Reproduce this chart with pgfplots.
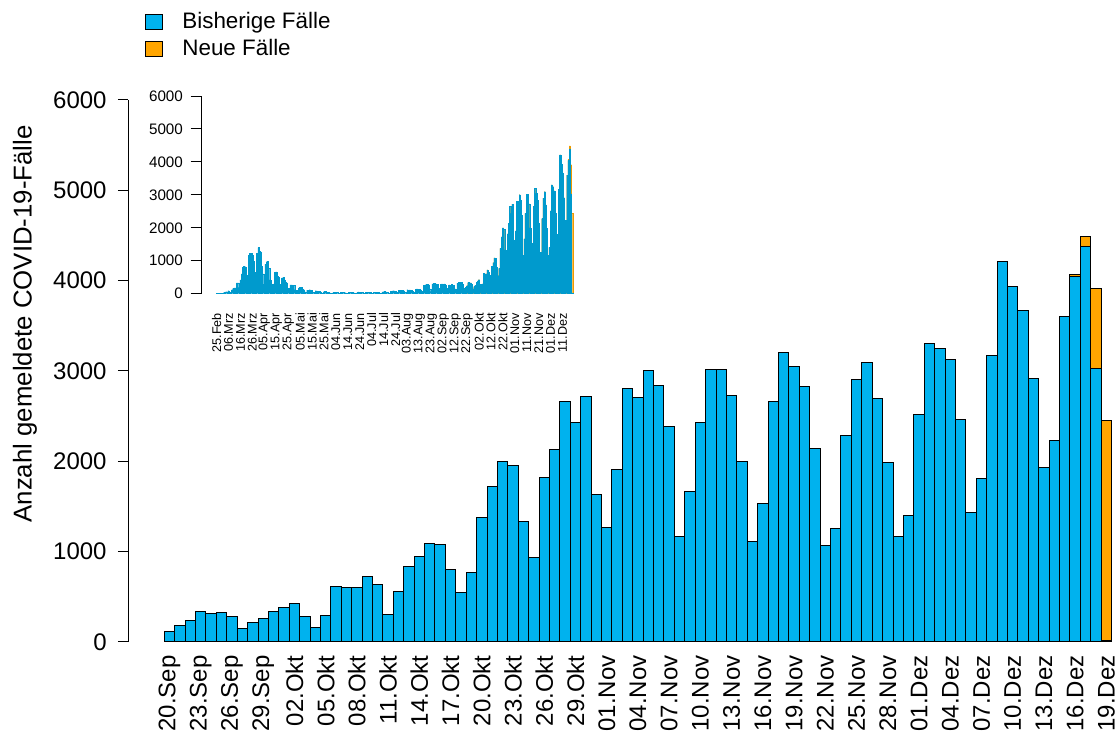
\documentclass[border=0pt]{standalone}
\usepackage{pgfplots}
\pgfplotsset{compat=1.18}
\usepackage{pgfplotstable}
\usepackage{fontspec}
\setmainfont{Liberation Sans}
\definecolor{mainblue}{RGB}{0,178,238}
\definecolor{insetblue}{RGB}{0,154,205}
\definecolor{neworange}{RGB}{255,165,0}
\definecolor{insetorange}{RGB}{238,154,0}

\pgfplotstableread[row sep=\\]{
i old new\\
0 114 0\\ 1 188 0\\ 2 243 0\\ 3 336 0\\ 4 310 0\\ 5 325 0\\ 6 281 0\\
7 148 0\\ 8 214 0\\ 9 258 0\\ 10 336 0\\ 11 387 0\\ 12 424 0\\ 13 281 0\\
14 166 0\\ 15 295 0\\ 16 616 0\\ 17 605 0\\ 18 598 0\\ 19 723 0\\ 20 642 0\\
21 306 0\\ 22 557 0\\ 23 834 0\\ 24 941 0\\ 25 1085 0\\ 26 1078 0\\ 27 801 0\\
28 546 0\\ 29 771 0\\ 30 1376 0\\ 31 1723 0\\ 32 2000 0\\ 33 1952 0\\ 34 1332 0\\
35 930 0\\ 36 1819 0\\ 37 2129 0\\ 38 2660 0\\ 39 2435 0\\ 40 2720 0\\ 41 1635 0\\
42 1265 0\\ 43 1908 0\\ 44 2808 0\\ 45 2705 0\\ 46 3004 0\\ 47 2841 0\\ 48 2388 0\\
49 1170 0\\ 50 1664 0\\ 51 2435 0\\ 52 3022 0\\ 53 3019 0\\ 54 2727 0\\ 55 2000 0\\
56 1110 0\\ 57 1535 0\\ 58 2660 0\\ 59 3203 0\\ 60 3048 0\\ 61 2830 0\\ 62 2137 0\\
63 1063 0\\ 64 1255 0\\ 65 2281 0\\ 66 2901 0\\ 67 3096 0\\ 68 2694 0\\ 69 1982 0\\
70 1166 0\\ 71 1402 0\\ 72 2513 0\\ 73 3299 0\\ 74 3247 0\\ 75 3122 0\\ 76 2458 0\\
77 1436 0\\ 78 1808 0\\ 79 3174 0\\ 80 4210 0\\ 81 3934 0\\ 82 3668 0\\ 83 2912 0\\
84 1937 0\\ 85 2236 0\\ 86 3598 0\\ 87 4041 30\\ 88 4373 111\\ 89 3033 882\\ 90 22 2425\\
}\maindata

\pgfplotstableread[row sep=\\]{
d v\\
0 3\\ 1 8\\ 2 15\\ 3 20\\ 4 12\\ 5 6\\
6 30\\ 7 45\\ 8 60\\ 9 55\\ 10 90\\ 11 50\\ 12 35\\
13 120\\ 14 160\\ 15 180\\ 16 175\\ 17 330\\ 18 330\\ 19 190\\
20 420\\ 21 600\\ 22 800\\ 23 840\\ 24 820\\ 25 560\\ 26 330\\
27 1170\\ 28 1220\\ 29 1230\\ 30 1180\\ 31 990\\ 32 640\\ 33 420\\
34 1230\\ 35 1400\\ 36 1280\\ 37 1270\\ 38 840\\ 39 600\\ 40 290\\
41 900\\ 42 970\\ 43 980\\ 44 770\\ 45 420\\ 46 300\\ 47 170\\
48 300\\ 49 650\\ 50 660\\ 51 530\\ 52 500\\ 53 290\\ 54 140\\
55 480\\ 56 500\\ 57 420\\ 58 360\\ 59 330\\ 60 170\\ 61 90\\
62 270\\ 63 270\\ 64 260\\ 65 250\\ 66 120\\ 67 110\\ 68 50\\
69 180\\ 70 190\\ 71 200\\ 72 150\\ 73 120\\ 74 60\\ 75 40\\
76 110\\ 77 110\\ 78 120\\ 79 100\\ 80 95\\ 81 40\\ 82 25\\
83 90\\ 84 85\\ 85 80\\ 86 70\\ 87 40\\ 88 30\\ 89 15\\
90 60\\ 91 70\\ 92 55\\ 93 50\\ 94 45\\ 95 25\\ 96 10\\
97 15\\ 98 50\\ 99 45\\ 100 40\\ 101 35\\ 102 20\\ 103 10\\
104 45\\ 105 40\\ 106 40\\ 107 25\\ 108 30\\ 109 15\\ 110 8\\
111 40\\ 112 45\\ 113 40\\ 114 35\\ 115 30\\ 116 15\\ 117 8\\
118 50\\ 119 55\\ 120 45\\ 121 40\\ 122 35\\ 123 15\\ 124 10\\
125 40\\ 126 45\\ 127 50\\ 128 40\\ 129 35\\ 130 20\\ 131 8\\
132 45\\ 133 50\\ 134 45\\ 135 45\\ 136 40\\ 137 20\\ 138 10\\
139 55\\ 140 60\\ 141 65\\ 142 55\\ 143 50\\ 144 25\\ 145 12\\
146 70\\ 147 80\\ 148 90\\ 149 85\\ 150 80\\ 151 40\\ 152 20\\
153 110\\ 154 100\\ 155 95\\ 156 110\\ 157 90\\ 158 50\\ 159 25\\
160 120\\ 161 110\\ 162 115\\ 163 100\\ 164 80\\ 165 50\\ 166 30\\
167 140\\ 168 150\\ 169 140\\ 170 130\\ 171 120\\ 172 70\\ 173 40\\
174 250\\ 175 270\\ 176 290\\ 177 280\\ 178 270\\ 179 150\\ 180 70\\
181 300\\ 182 320\\ 183 310\\ 184 300\\ 185 280\\ 186 160\\ 187 80\\
188 290\\ 189 300\\ 190 290\\ 191 300\\ 192 270\\ 193 170\\ 194 90\\
195 270\\ 196 260\\ 197 280\\ 198 260\\ 199 250\\ 200 150\\ 201 80\\
202 320\\ 203 340\\ 204 330\\ 205 340\\ 206 300\\ 207 180\\
}\predata

\begin{document}
\begin{tikzpicture}
\useasboundingbox (0,0) rectangle (559.5bp,370bp);
% main axis
\begin{axis}[
  at={(64bp,49bp)}, anchor=south west, scale only axis,
  width=495.5bp, height=271bp,
  xmin=-3.99, xmax=91.21, ymin=0, ymax=6000,
  axis lines*=left, axis line style={-, line width=0.5bp},
  x axis line style={draw=none},
  tick align=outside, major tick length=5bp,
  xtick={0,3,...,90},
  xticklabels={20.Sep,23.Sep,26.Sep,29.Sep,02.Okt,05.Okt,08.Okt,11.Okt,14.Okt,17.Okt,20.Okt,23.Okt,26.Okt,29.Okt,01.Nov,04.Nov,07.Nov,10.Nov,13.Nov,16.Nov,19.Nov,22.Nov,25.Nov,28.Nov,01.Dez,04.Dez,07.Dez,10.Dez,13.Dez,16.Dez,19.Dez},
  xtick style={draw=none},
  xticklabel style={rotate=90, anchor=east, inner sep=1.5bp, font=\fontsize{12bp}{14bp}\selectfont},
  ytick={0,1000,...,6000},
  ytick style={black, line width=0.5bp},
  yticklabel style={inner sep=5.5bp, font=\fontsize{12bp}{14bp}\selectfont},
  /pgf/number format/assume math mode=true,
  /pgf/number format/1000 sep={},
  scaled y ticks=false,
  ylabel={Anzahl gemeldete COVID-19-Fälle},
  every axis y label/.style={at={(axis description cs:-0.104,0.587)}, rotate=90, anchor=center, font=\fontsize{12.9bp}{15bp}\selectfont},
  legend image code/.code={\draw[#1, line width=0.5bp] (0bp,-3.75bp) rectangle (8.5bp,3.75bp);},
  legend style={at={(axis description cs:0.01715,1.166)}, anchor=north west, draw=none, fill=none, inner sep=0pt, row sep=1.5bp,
    nodes={inner sep=1bp, text height=8bp, text depth=2bp, anchor=west},
    font=\fontsize{11.2bp}{13bp}\selectfont,
    /tikz/every odd column/.append style={column sep=8.5bp}},
  legend cell align=left,
]
\addplot[ybar, bar width=1, bar shift=0pt, fill=neworange, draw=black, line width=0.5bp, forget plot]
  table[x=i, y expr=\thisrow{old}+\thisrow{new}] {\maindata};
\addplot[ybar, bar width=1, bar shift=0pt, fill=mainblue, draw=black, line width=0.5bp, forget plot]
  table[x=i, y=old] {\maindata};
\addlegendimage{fill=mainblue, draw=black}
\addlegendentry{Bisherige Fälle}
\addlegendimage{fill=neworange, draw=black}
\addlegendentry{Neue Fälle}
\end{axis}
% inset axis
\begin{axis}[
  at={(100.85bp,223.15bp)}, anchor=south west, scale only axis,
  width=192.65bp, height=98.85bp,
  xmin=-12.5, xmax=310.5, ymin=0, ymax=6000,
  axis lines*=left, axis line style={-, line width=0.5bp},
  x axis line style={draw=none},
  tick align=outside, major tick length=5.5bp,
  xtick={0,10,...,290},
  xticklabels={25.Feb,06.Mrz,16.Mrz,26.Mrz,05.Apr,15.Apr,25.Apr,05.Mai,15.Mai,25.Mai,04.Jun,14.Jun,24.Jun,04.Jul,14.Jul,24.Jul,03.Aug,13.Aug,23.Aug,02.Sep,12.Sep,22.Sep,02.Okt,12.Okt,22.Okt,01.Nov,11.Nov,21.Nov,01.Dez,11.Dez},
  xtick style={draw=none},
  xticklabel style={rotate=90, anchor=east, inner sep=4bp, font=\fontsize{6.3bp}{7bp}\selectfont},
  ytick={0,1000,...,6000},
  ytick style={black, line width=0.5bp},
  yticklabel style={inner sep=3.7bp, font=\fontsize{7.6bp}{9bp}\selectfont},
  /pgf/number format/assume math mode=true,
  /pgf/number format/1000 sep={},
  scaled y ticks=false,
]
\addplot[ybar, bar width=1, bar shift=0pt, fill=insetblue, draw=insetblue, line width=0.15bp]
  table[x=d, y=v] {\predata};
\addplot[ybar, bar width=1, bar shift=0pt, fill=insetorange, draw=insetorange, line width=0.15bp]
  table[x expr=\thisrow{i}+208, y expr=\thisrow{old}+\thisrow{new}] {\maindata};
\addplot[ybar, bar width=1, bar shift=0pt, fill=insetblue, draw=insetblue, line width=0.15bp]
  table[x expr=\thisrow{i}+208, y=old] {\maindata};
\end{axis}
\end{tikzpicture}
\end{document}
